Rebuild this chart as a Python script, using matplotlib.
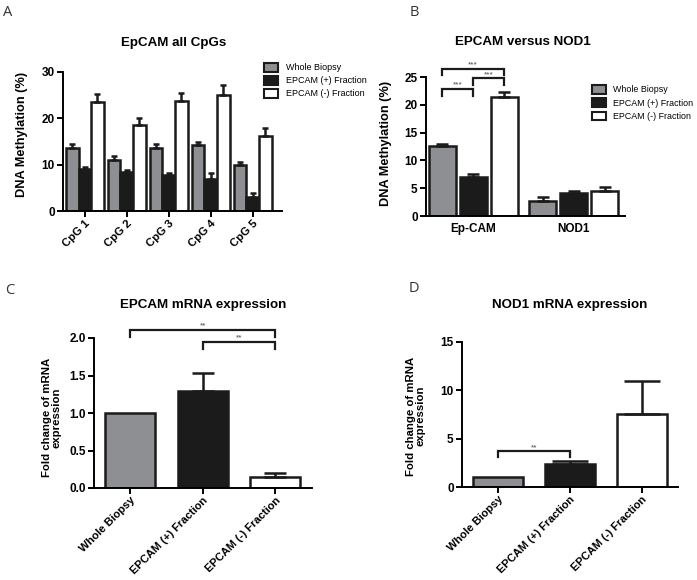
import numpy as np
import matplotlib
matplotlib.use('Agg')
import matplotlib.pyplot as plt
from matplotlib.patches import Patch

plt.rcParams['font.family'] = ['Liberation Sans', 'DejaVu Sans']

# ---- data ----
groups = ['Whole Biopsy', 'EPCAM (+) Fraction', 'EPCAM (-) Fraction']
colors = ['#8e8f92', '#1b1b1b', '#ffffff']

cpg_labels = ['CpG 1', 'CpG 2', 'CpG 3', 'CpG 4', 'CpG 5']
cpg_whole = [13.6, 11.1, 13.7, 14.2, 10.0]
cpg_whole_err = [0.8, 0.8, 0.8, 0.6, 0.5]
cpg_pos = [9.0, 8.5, 7.7, 6.9, 3.0]
cpg_pos_err = [0.6, 0.3, 0.5, 1.4, 0.9]
cpg_neg = [23.5, 18.6, 23.7, 25.1, 16.2]
cpg_neg_err = [1.7, 1.5, 1.8, 2.2, 1.8]

gene_labels = ['Ep-CAM', 'NOD1']
gene_whole = [12.6, 2.75]
gene_whole_err = [0.4, 0.65]
gene_pos = [7.05, 4.05]
gene_pos_err = [0.5, 0.45]
gene_neg = [21.35, 4.55]
gene_neg_err = [0.95, 0.6]

epcam_mrna = [1.0, 1.30, 0.15]
epcam_mrna_err = [0.0, 0.23, 0.055]
nod1_mrna = [1.0, 2.35, 7.52]
nod1_mrna_err = [0.0, 0.32, 3.45]

W, H = 697, 580
fig = plt.figure(figsize=(W / 100, H / 100), dpi=100)


def add_ax(x0, y0, x1, y1):
    # pixel box -> figure fraction
    return fig.add_axes([x0 / W, 1 - y1 / H, (x1 - x0) / W, (y1 - y0) / H])


def style(ax, xtick_len=4, xsize=8.5):
    for s in ['top', 'right']:
        ax.spines[s].set_visible(False)
    for s in ['left', 'bottom']:
        ax.spines[s].set_linewidth(1.4)
    ax.tick_params(axis='y', direction='out', length=4, width=1.4, labelsize=8.5, pad=2)
    ax.tick_params(axis='x', direction='out', length=xtick_len, width=1.4, labelsize=xsize, pad=1)
    for t in ax.get_xticklabels() + ax.get_yticklabels():
        t.set_fontweight('bold')


def bracket(ax, x1, x2, y, drop, stars, fs=6):
    ax.plot([x1, x1, x2, x2], [y - drop, y, y, y - drop], color='#1b1b1b', lw=1.6,
            clip_on=False, solid_joinstyle='miter')
    ax.text((x1 + x2) / 2, y, stars, ha='center', va='bottom', fontsize=fs, color='#444444')


lw = 1.8

# ---- A ----
axA = add_ax(63, 72, 282, 211)
x = np.arange(1, 6)
bw = 0.3
for off, vals, errs, c in [(-bw, cpg_whole, cpg_whole_err, colors[0]),
                          (0, cpg_pos, cpg_pos_err, colors[1]),
                          (bw, cpg_neg, cpg_neg_err, colors[2])]:
    axA.bar(x + off, vals, width=bw, color=c, edgecolor='#1b1b1b', linewidth=lw)
    axA.errorbar(x + off, vals, yerr=[np.zeros(5), errs], fmt='none', ecolor='#1b1b1b',
                 elinewidth=lw, capsize=2.5, capthick=lw)
axA.set_xlim(0.48, 5.7)
axA.set_ylim(0, 30)
axA.set_yticks([0, 10, 20, 30])
axA.set_xticks(x)
axA.set_xticklabels(cpg_labels, rotation=45, ha='right', rotation_mode='anchor')
style(axA, xsize=8.2)
axA.set_ylabel('DNA Methylation (%)', fontsize=9.2, fontweight='bold')
axA.yaxis.set_label_coords(-0.16, 0.55)
fig.text(174 / W, 1 - 43 / H, 'EpCAM all CpGs', ha='center', va='center', fontsize=9.6, fontweight='bold')
handles = [Patch(facecolor=c, edgecolor='#1b1b1b', linewidth=1.5) for c in colors]
axA.legend(handles, groups, loc='upper left', bbox_to_anchor=(264 / W, 1 - 63 / H),
           bbox_transform=fig.transFigure, frameon=False, fontsize=6.5,
           handlelength=1.6, handleheight=1.1, handletextpad=0.8, labelspacing=0.4,
           borderpad=0, borderaxespad=0)

# ---- B ----
axB = add_ax(426, 77, 625, 216)
xg = np.arange(2)
bwB = 0.27
spB = 0.308
for off, vals, errs, c in [(-spB, gene_whole, gene_whole_err, colors[0]),
                          (0, gene_pos, gene_pos_err, colors[1]),
                          (spB, gene_neg, gene_neg_err, colors[2])]:
    axB.bar(xg + off, vals, width=bwB, color=c, edgecolor='#1b1b1b', linewidth=lw)
    axB.errorbar(xg + off, vals, yerr=[np.zeros(2), errs], fmt='none', ecolor='#1b1b1b',
                 elinewidth=lw, capsize=4.5, capthick=lw)
axB.set_xlim(-0.47, 1.51)
axB.set_ylim(0, 25)
axB.set_yticks([0, 5, 10, 15, 20, 25])
axB.set_xticks(xg)
axB.set_xticklabels(gene_labels)
style(axB, xtick_len=0)
axB.tick_params(axis='x', pad=5)
axB.set_ylabel('DNA Methylation (%)', fontsize=9.2, fontweight='bold')
axB.yaxis.set_label_coords(-0.17, 0.52)
fig.text(523 / W, 1 - 42 / H, 'EPCAM versus NOD1', ha='center', va='center', fontsize=9.6, fontweight='bold')
bracket(axB, -spB, spB, 26.5, 1.1, '***')
bracket(axB, 0, spB, 24.8, 1.2, '***')
bracket(axB, -spB, 0, 22.9, 1.3, '***')
axB.legend(handles, groups, loc='upper left', bbox_to_anchor=(592 / W, 1 - 85 / H),
           bbox_transform=fig.transFigure, frameon=False, fontsize=6.4,
           handlelength=1.6, handleheight=1.1, handletextpad=0.8, labelspacing=0.45,
           borderpad=0, borderaxespad=0)

# ---- C ----
axC = add_ax(94, 338, 312, 488)
x3 = np.arange(3)
axC.bar(x3, epcam_mrna, width=0.69, color=colors, edgecolor='#1b1b1b', linewidth=lw)
axC.errorbar(x3[1:], epcam_mrna[1:], yerr=[np.zeros(2), epcam_mrna_err[1:]], fmt='none',
             ecolor='#1b1b1b', elinewidth=lw, capsize=8, capthick=lw)
axC.set_xlim(-0.5, 2.51)
axC.set_ylim(0, 2.0)
axC.set_yticks([0, 0.5, 1.0, 1.5, 2.0])
axC.set_yticklabels(['0.0', '0.5', '1.0', '1.5', '2.0'])
axC.set_xticks(x3)
axC.set_xticklabels(groups, rotation=45, ha='right', rotation_mode='anchor')
style(axC, xsize=8.0)
axC.set_ylabel('Fold change of mRNA\nexpression', fontsize=8.2, fontweight='bold', linespacing=0.95)
axC.yaxis.set_label_coords(-0.15, 0.47)
fig.text(203 / W, 1 - 305 / H, 'EPCAM mRNA expression', ha='center', va='center', fontsize=9.6, fontweight='bold')
bracket(axC, 0, 2, 2.11, 0.09, '**')
bracket(axC, 1, 2, 1.95, 0.1, '**')

# ---- D ----
axD = add_ax(462, 342, 678, 487)
axD.bar(x3, nod1_mrna, width=0.69, color=colors, edgecolor='#1b1b1b', linewidth=lw)
axD.errorbar(x3[1:], nod1_mrna[1:], yerr=[np.zeros(2), nod1_mrna_err[1:]], fmt='none',
             ecolor='#1b1b1b', elinewidth=lw, capsize=13, capthick=lw)
axD.set_xlim(-0.5, 2.5)
axD.set_ylim(0, 15)
axD.set_yticks([0, 5, 10, 15])
axD.set_xticks(x3)
axD.set_xticklabels(groups, rotation=45, ha='right', rotation_mode='anchor')
style(axD, xsize=8.0)
axD.set_ylabel('Fold change of mRNA\nexpression', fontsize=8.2, fontweight='bold', linespacing=0.95)
axD.yaxis.set_label_coords(-0.17, 0.49)
fig.text(570 / W, 1 - 305 / H, 'NOD1 mRNA expression', ha='center', va='center', fontsize=9.6, fontweight='bold')
bracket(axD, 0, 1, 3.72, 0.62, '**')

# panel letters
for lab, px, py in [('A', 8, 13), ('B', 414, 13), ('C', 10, 290), ('D', 414, 288)]:
    fig.text(px / W, 1 - py / H, lab, ha='center', va='center', fontsize=10.5,
             family=['Open Sans', 'DejaVu Sans'], color='#333333')

fig.savefig('out.png', dpi=100)
